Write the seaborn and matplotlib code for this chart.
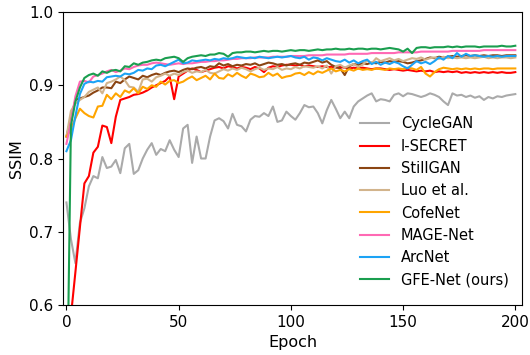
import numpy as np
import pandas as pd
import matplotlib
matplotlib.use("Agg")
import matplotlib.pyplot as plt
import seaborn as sns

# epochs sampled every 2
epochs = list(range(0, 201, 2))

cyclegan = [0.74, 0.69, 0.657, 0.712, 0.732, 0.762, 0.776, 0.773, 0.802, 0.787,
            0.789, 0.798, 0.780, 0.814, 0.820, 0.779, 0.784, 0.800, 0.812, 0.821,
            0.805, 0.813, 0.810, 0.825, 0.812, 0.802, 0.841, 0.846, 0.794, 0.830,
            0.800, 0.800, 0.830, 0.852, 0.855, 0.851, 0.841, 0.861, 0.846, 0.844,
            0.837, 0.853, 0.858, 0.857, 0.862, 0.858, 0.871, 0.850, 0.852, 0.864,
            0.858, 0.853, 0.862, 0.873, 0.870, 0.871, 0.862, 0.848, 0.866, 0.880,
            0.868, 0.855, 0.864, 0.855, 0.871, 0.878, 0.882, 0.886, 0.889, 0.878,
            0.881, 0.880, 0.878, 0.887, 0.889, 0.885, 0.889, 0.888, 0.886, 0.884,
            0.886, 0.889, 0.887, 0.884, 0.878, 0.873, 0.889, 0.886, 0.887, 0.884,
            0.886, 0.883, 0.885, 0.880, 0.884, 0.882, 0.885, 0.884, 0.886, 0.887,
            0.888]

isecret = [0.52, 0.585, 0.645, 0.706, 0.766, 0.776, 0.808, 0.816, 0.845, 0.843,
           0.821, 0.857, 0.880, 0.882, 0.884, 0.887, 0.888, 0.890, 0.893, 0.897,
           0.900, 0.903, 0.906, 0.912, 0.881, 0.912, 0.916, 0.920, 0.923, 0.921,
           0.918, 0.920, 0.922, 0.924, 0.925, 0.923, 0.926, 0.925, 0.923, 0.925,
           0.924, 0.922, 0.925, 0.923, 0.918, 0.924, 0.926, 0.925, 0.927, 0.928,
           0.928, 0.927, 0.928, 0.926, 0.927, 0.926, 0.925, 0.926, 0.925, 0.925,
           0.924, 0.925, 0.924, 0.923, 0.924, 0.923, 0.924, 0.923, 0.922, 0.923,
           0.923, 0.922, 0.921, 0.922, 0.921, 0.920, 0.921, 0.920, 0.919, 0.920,
           0.919, 0.920, 0.918, 0.919, 0.918, 0.919, 0.918, 0.919, 0.917, 0.918,
           0.917, 0.918, 0.917, 0.918, 0.917, 0.918, 0.917, 0.918, 0.917, 0.917,
           0.918]

stillgan = [0.83, 0.855, 0.880, 0.882, 0.884, 0.886, 0.890, 0.893, 0.897, 0.897,
            0.896, 0.905, 0.903, 0.908, 0.912, 0.910, 0.908, 0.913, 0.911, 0.914,
            0.916, 0.914, 0.917, 0.919, 0.920, 0.918, 0.921, 0.923, 0.922, 0.924,
            0.925, 0.923, 0.926, 0.925, 0.930, 0.927, 0.929, 0.926, 0.928, 0.927,
            0.929, 0.928, 0.930, 0.927, 0.929, 0.931, 0.930, 0.928, 0.929, 0.927,
            0.929, 0.930, 0.928, 0.931, 0.930, 0.932, 0.934, 0.931, 0.933, 0.928,
            0.925, 0.923, 0.914, 0.926, 0.929, 0.928, 0.930, 0.929, 0.931, 0.930,
            0.932, 0.931, 0.933, 0.932, 0.933, 0.932, 0.930, 0.931, 0.933, 0.934,
            0.936, 0.938, 0.937, 0.939, 0.938, 0.939, 0.940, 0.939, 0.940, 0.941,
            0.940, 0.941, 0.940, 0.941, 0.940, 0.941, 0.941, 0.940, 0.941, 0.941,
            0.941]

luo = [0.83, 0.865, 0.875, 0.880, 0.884, 0.891, 0.894, 0.897, 0.889, 0.903,
       0.905, 0.908, 0.912, 0.907, 0.898, 0.897, 0.891, 0.908, 0.909, 0.905,
       0.911, 0.913, 0.916, 0.913, 0.916, 0.914, 0.918, 0.920, 0.917, 0.919,
       0.918, 0.921, 0.917, 0.916, 0.919, 0.922, 0.920, 0.923, 0.921, 0.924,
       0.922, 0.919, 0.922, 0.924, 0.921, 0.923, 0.922, 0.925, 0.921, 0.923,
       0.922, 0.925, 0.923, 0.926, 0.925, 0.924, 0.926, 0.923, 0.927, 0.916,
       0.926, 0.928, 0.924, 0.927, 0.929, 0.925, 0.928, 0.934, 0.930, 0.937,
       0.933, 0.935, 0.937, 0.934, 0.936, 0.933, 0.935, 0.937, 0.936, 0.938,
       0.935, 0.937, 0.938, 0.936, 0.939, 0.937, 0.938, 0.937, 0.938, 0.937,
       0.938, 0.937, 0.938, 0.939, 0.937, 0.938, 0.937, 0.938, 0.938, 0.937,
       0.938]

cofenet = [0.83, 0.840, 0.855, 0.868, 0.862, 0.858, 0.856, 0.871, 0.872, 0.887,
           0.881, 0.889, 0.884, 0.893, 0.890, 0.896, 0.889, 0.898, 0.895, 0.900,
           0.898, 0.905, 0.901, 0.906, 0.907, 0.903, 0.905, 0.909, 0.912, 0.907,
           0.910, 0.913, 0.908, 0.916, 0.910, 0.909, 0.915, 0.912, 0.917, 0.913,
           0.910, 0.916, 0.914, 0.911, 0.912, 0.917, 0.913, 0.916, 0.910, 0.912,
           0.913, 0.916, 0.917, 0.914, 0.918, 0.915, 0.919, 0.917, 0.920, 0.923,
           0.919, 0.921, 0.919, 0.922, 0.920, 0.923, 0.921, 0.922, 0.921, 0.923,
           0.922, 0.921, 0.923, 0.922, 0.923, 0.922, 0.924, 0.923, 0.921, 0.925,
           0.916, 0.912, 0.918, 0.922, 0.924, 0.923, 0.922, 0.923, 0.922, 0.923,
           0.922, 0.923, 0.922, 0.923, 0.923, 0.922, 0.923, 0.923, 0.923, 0.923,
           0.923]

magenet = [0.82, 0.850, 0.885, 0.905, 0.906, 0.904, 0.912, 0.914, 0.916, 0.919,
           0.921, 0.918, 0.920, 0.923, 0.922, 0.925, 0.927, 0.928, 0.928, 0.930,
           0.931, 0.930, 0.929, 0.928, 0.929, 0.930, 0.929, 0.930, 0.930, 0.931,
           0.932, 0.932, 0.933, 0.933, 0.934, 0.934, 0.935, 0.936, 0.936, 0.937,
           0.937, 0.937, 0.938, 0.938, 0.938, 0.938, 0.939, 0.939, 0.939, 0.939,
           0.940, 0.940, 0.940, 0.940, 0.941, 0.941, 0.941, 0.941, 0.942, 0.942,
           0.942, 0.942, 0.942, 0.943, 0.943, 0.943, 0.943, 0.943, 0.944, 0.944,
           0.944, 0.944, 0.944, 0.944, 0.945, 0.945, 0.945, 0.945, 0.945, 0.946,
           0.946, 0.946, 0.946, 0.946, 0.946, 0.946, 0.947, 0.947, 0.947, 0.947,
           0.947, 0.947, 0.947, 0.948, 0.948, 0.948, 0.948, 0.948, 0.948, 0.948,
           0.948]

arcnet = [0.81, 0.825, 0.858, 0.888, 0.902, 0.905, 0.904, 0.906, 0.905, 0.911,
          0.912, 0.913, 0.912, 0.916, 0.915, 0.917, 0.921, 0.920, 0.923, 0.922,
          0.927, 0.928, 0.926, 0.929, 0.932, 0.935, 0.930, 0.931, 0.934, 0.933,
          0.934, 0.935, 0.934, 0.936, 0.935, 0.937, 0.936, 0.937, 0.939, 0.938,
          0.937, 0.938, 0.937, 0.939, 0.938, 0.937, 0.938, 0.939, 0.938, 0.939,
          0.940, 0.938, 0.937, 0.939, 0.935, 0.938, 0.937, 0.934, 0.937, 0.935,
          0.933, 0.932, 0.935, 0.931, 0.934, 0.930, 0.933, 0.935, 0.929, 0.932,
          0.928, 0.931, 0.929, 0.932, 0.930, 0.926, 0.923, 0.928, 0.933, 0.930,
          0.932, 0.929, 0.933, 0.938, 0.935, 0.940, 0.937, 0.944, 0.939, 0.943,
          0.940, 0.941, 0.940, 0.939, 0.940, 0.939, 0.940, 0.939, 0.940, 0.940,
          0.940]

gfenet = [0.40, 0.845, 0.878, 0.897, 0.910, 0.914, 0.916, 0.913, 0.919, 0.917,
          0.920, 0.921, 0.919, 0.926, 0.925, 0.930, 0.928, 0.931, 0.932, 0.934,
          0.935, 0.934, 0.937, 0.938, 0.939, 0.937, 0.932, 0.937, 0.939, 0.940,
          0.941, 0.940, 0.942, 0.942, 0.944, 0.943, 0.939, 0.944, 0.945, 0.945,
          0.946, 0.946, 0.945, 0.946, 0.947, 0.946, 0.947, 0.947, 0.946, 0.947,
          0.948, 0.947, 0.948, 0.948, 0.947, 0.948, 0.949, 0.948, 0.949, 0.949,
          0.950, 0.949, 0.949, 0.950, 0.949, 0.950, 0.950, 0.949, 0.950, 0.950,
          0.949, 0.950, 0.951, 0.950, 0.949, 0.946, 0.950, 0.944, 0.951, 0.952,
          0.952, 0.951, 0.952, 0.952, 0.952, 0.953, 0.952, 0.953, 0.952, 0.953,
          0.953, 0.953, 0.952, 0.953, 0.953, 0.953, 0.953, 0.954, 0.953, 0.953,
          0.954]

methods = ["CycleGAN", "I-SECRET", "StillGAN", "Luo et al.", "CofeNet",
           "MAGE-Net", "ArcNet", "GFE-Net (ours)"]
series = [cyclegan, isecret, stillgan, luo, cofenet, magenet, arcnet, gfenet]
colors = ["#aaaaaa", "#ff0000", "#8b4513", "#d2b48c", "#ffa500",
          "#ff69b4", "#1ca3f5", "#1a9e4f"]

frames = []
for name, vals in zip(methods, series):
    frames.append(pd.DataFrame({"Epoch": epochs, "SSIM": vals, "Method": name}))
df = pd.concat(frames, ignore_index=True)

fig = plt.figure(figsize=(5.3, 3.55), dpi=100)
ax = fig.add_axes([0.119, 0.141, 0.866, 0.825])

sns.lineplot(data=df, x="Epoch", y="SSIM", hue="Method", hue_order=methods,
             palette=dict(zip(methods, colors)), linewidth=1.5, ax=ax)

ax.set_xlim(-1.5, 203)
ax.set_ylim(0.6, 1.0)
ax.set_xticks([0, 50, 100, 150, 200])
ax.set_yticks([0.6, 0.7, 0.8, 0.9, 1.0])
ax.tick_params(labelsize=11)
ax.set_xlabel("Epoch", fontsize=11.5)
ax.set_ylabel("SSIM", fontsize=11.5)

sns.move_legend(ax, "lower right", bbox_to_anchor=(1.0, 0.015),
                frameon=False, title=None, fontsize=10.5)

fig.savefig("out.png", dpi=100)
